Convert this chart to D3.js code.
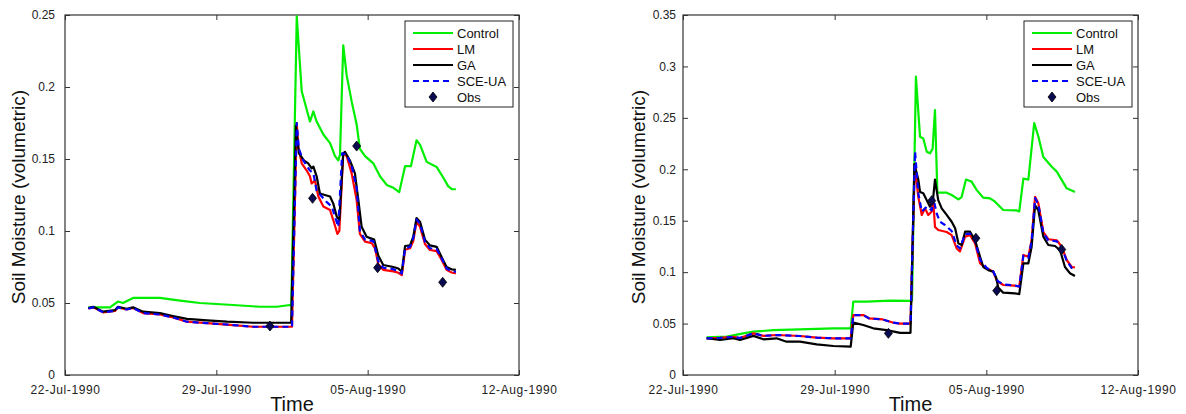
<!DOCTYPE html>
<html>
<head>
<meta charset="utf-8">
<script src="https://cdn.jsdelivr.net/npm/d3@7"></script>
<style>
  html, body { margin: 0; padding: 0; background: #fff; }
  svg { display: block; font-family: "Liberation Sans", Arial, Helvetica, sans-serif; }
</style>
</head>
<body>
<svg id="chart" width="1186" height="414"></svg>
<script>
// ---------- DATA (day offset from 22-Jul-1990 00:00, volumetric soil moisture) ----------
const seriesNames = ["Control", "LM", "GA", "SCE-UA", "Obs"];
const xTickLabels = ["22-Jul-1990", "29-Jul-1990", "05-Aug-1990", "12-Aug-1990"];
const xTickDays = [0, 7, 14, 21];
const yTicksLeft = [0, 0.05, 0.1, 0.15, 0.2, 0.25];
const yTicksRight = [0, 0.05, 0.1, 0.15, 0.2, 0.25, 0.3, 0.35];

// ----- left panel -----
const leftControl = [[1.08,0.047],[1.76,0.047],[2.08,0.047],[2.45,0.051],[2.68,0.050],[3.15,0.0535],[4.39,0.0535],
  [5.32,0.0516],[6.24,0.050],[7.77,0.0486],[9.02,0.0474],[9.8,0.0474],[10.41,0.0486],[10.47,0.048],[10.72,0.249],
  [10.95,0.197],[11.33,0.176],[11.49,0.183],[11.64,0.176],[11.95,0.167],[12.26,0.161],[12.49,0.152],[12.64,0.149],
  [12.72,0.153],[12.87,0.229],[13.03,0.208],[13.26,0.19],[13.49,0.174],[13.64,0.157],[13.88,0.152],[14.26,0.147],
  [14.57,0.138],[14.88,0.132],[15.19,0.130],[15.46,0.127],[15.73,0.145],[16.0,0.145],[16.26,0.163],[16.42,0.160],
  [16.73,0.148],[17.19,0.1445],[17.5,0.137],[17.73,0.131],[17.9,0.129],[18.08,0.129]];
const leftLM = [[1.08,0.0463],[1.31,0.047],[1.76,0.0435],[2.31,0.0445],[2.45,0.047],[2.85,0.0455],[3.15,0.0465],
  [3.61,0.043],[4.39,0.042],[4.99,0.040],[5.64,0.037],[6.57,0.036],[7.77,0.0347],[8.7,0.0335],[10.5,0.0335],
  [10.72,0.175],[10.79,0.1585],[10.95,0.147],[11.18,0.142],[11.33,0.138],[11.41,0.133],[11.56,0.135],[11.72,0.124],
  [11.95,0.117],[12.26,0.1146],[12.41,0.1076],[12.6,0.098],[12.69,0.100],[12.87,0.154],[13.03,0.152],[13.26,0.140],
  [13.49,0.1215],[13.64,0.098],[13.88,0.0926],[14.19,0.0915],[14.34,0.088],[14.49,0.077],[14.72,0.073],[15.19,0.072],
  [15.42,0.071],[15.58,0.0694],[15.73,0.087],[15.96,0.088],[16.11,0.093],[16.26,0.1065],[16.42,0.103],[16.65,0.091],
  [16.88,0.0868],[17.19,0.086],[17.42,0.080],[17.65,0.073],[17.88,0.0712],[18.08,0.0706]];
const leftGA = [[1.08,0.0465],[1.31,0.0474],[1.76,0.044],[2.31,0.045],[2.45,0.0474],[2.85,0.046],[3.15,0.047],
  [3.61,0.044],[4.39,0.043],[4.99,0.041],[5.64,0.039],[6.57,0.038],[7.49,0.037],[8.7,0.0363],[10.46,0.0363],
  [10.68,0.173],[10.82,0.154],[11.05,0.149],[11.25,0.147],[11.41,0.1435],[11.49,0.1447],[11.64,0.138],[11.79,0.126],
  [12.02,0.125],[12.26,0.124],[12.41,0.119],[12.57,0.11],[12.69,0.1076],[12.87,0.154],[12.95,0.155],[13.18,0.149],
  [13.41,0.14],[13.57,0.1215],[13.72,0.103],[13.95,0.096],[14.3,0.094],[14.49,0.083],[14.72,0.0764],[15.19,0.075],
  [15.42,0.074],[15.58,0.0717],[15.73,0.0896],[15.96,0.090],[16.11,0.096],[16.26,0.109],[16.42,0.1065],[16.65,0.094],
  [16.88,0.090],[17.19,0.089],[17.42,0.082],[17.65,0.075],[17.88,0.0734],[18.08,0.073]];
const leftSCE = [[1.08,0.0463],[1.31,0.047],[1.76,0.0435],[2.31,0.0445],[2.45,0.047],[2.85,0.0455],[3.15,0.0465],
  [3.61,0.043],[4.39,0.042],[4.99,0.040],[5.64,0.037],[6.57,0.036],[7.77,0.0347],[8.7,0.0335],[10.5,0.0335],
  [10.72,0.175],[10.82,0.157],[11.02,0.149],[11.33,0.142],[11.49,0.140],[11.64,0.128],[12.11,0.12],[12.34,0.117],
  [12.49,0.11],[12.64,0.103],[12.82,0.154],[13.03,0.153],[13.26,0.145],[13.49,0.13],[13.64,0.100],[13.88,0.094],
  [14.26,0.093],[14.49,0.079],[14.72,0.0745],[15.19,0.0735],[15.58,0.0705],[15.73,0.088],[15.96,0.089],[16.11,0.095],
  [16.26,0.108],[16.42,0.105],[16.65,0.0925],[16.88,0.088],[17.19,0.0875],[17.42,0.081],[17.65,0.074],[17.88,0.0722],
  [18.08,0.0715]];
const leftObs = [[9.48,0.034],[11.45,0.1227],[13.49,0.159],[14.46,0.0745],[17.47,0.0644]];

// ----- right panel -----
const rightControl = [[1.09,0.0366],[2.02,0.0373],[2.78,0.0405],[3.25,0.0421],[4.17,0.0437],[5.4,0.0444],[6.94,0.0454],
  [7.74,0.0454],[7.86,0.0713],[8.48,0.0713],[9.55,0.0723],[10.48,0.072],[10.57,0.072],[10.75,0.29],[10.94,0.2317],
  [11.09,0.23],[11.25,0.217],[11.4,0.2155],[11.52,0.22],[11.63,0.2576],[11.74,0.1773],[12.17,0.1773],[12.4,0.175],
  [12.71,0.1708],[12.86,0.173],[13.06,0.19],[13.32,0.188],[13.55,0.18],[13.86,0.1724],[14.17,0.1718],[14.4,0.1685],
  [14.78,0.1604],[15.4,0.160],[15.52,0.159],[15.71,0.191],[15.94,0.19],[16.21,0.245],[16.4,0.232],[16.63,0.212],
  [17.02,0.2025],[17.25,0.1977],[17.71,0.1815],[18.09,0.178]];
const rightLM = [[1.09,0.0357],[1.71,0.036],[2.32,0.037],[2.63,0.036],[3.25,0.0405],[3.71,0.038],[4.32,0.0389],
  [5.4,0.0379],[6.17,0.0363],[6.94,0.0357],[7.74,0.0357],[7.86,0.0583],[8.32,0.0583],[8.6,0.055],[9.22,0.054],
  [9.68,0.051],[10.02,0.050],[10.5,0.050],[10.7,0.205],[10.86,0.173],[11.02,0.1556],[11.17,0.162],[11.32,0.1556],
  [11.48,0.159],[11.55,0.17],[11.63,0.144],[11.78,0.141],[12.17,0.139],[12.4,0.136],[12.63,0.123],[12.78,0.12],
  [13.02,0.1345],[13.25,0.136],[13.48,0.128],[13.71,0.1086],[14.02,0.1037],[14.32,0.1004],[14.48,0.092],
  [14.55,0.0907],[14.78,0.0875],[15.32,0.0868],[15.52,0.0858],[15.71,0.1167],[15.94,0.115],[16.09,0.131],
  [16.25,0.1733],[16.4,0.167],[16.63,0.139],[16.86,0.132],[17.25,0.131],[17.48,0.1247],[17.71,0.1118],[17.94,0.105],
  [18.09,0.1047]];
const rightGA = [[1.09,0.0357],[1.71,0.034],[2.32,0.0357],[2.63,0.034],[3.25,0.038],[3.71,0.0347],[4.32,0.0357],
  [4.78,0.0324],[5.4,0.0324],[6.17,0.0298],[6.94,0.0282],[7.74,0.0275],[7.86,0.0509],[8.32,0.0486],[8.78,0.0454],
  [9.4,0.0437],[10.02,0.041],[10.5,0.041],[10.68,0.205],[10.86,0.19],[10.94,0.178],[11.09,0.1766],[11.25,0.170],
  [11.4,0.1636],[11.55,0.173],[11.63,0.19],[11.78,0.17],[11.94,0.162],[12.17,0.1556],[12.4,0.149],[12.56,0.1426],
  [12.71,0.128],[12.86,0.1264],[13.02,0.1393],[13.25,0.1393],[13.48,0.131],[13.71,0.115],[13.86,0.105],[14.09,0.102],
  [14.32,0.1004],[14.45,0.095],[14.55,0.085],[14.78,0.080],[15.32,0.0794],[15.52,0.0787],[15.71,0.1086],[15.94,0.1086],
  [16.09,0.1247],[16.25,0.165],[16.4,0.16],[16.63,0.1345],[16.86,0.1264],[17.17,0.1254],[17.4,0.1215],[17.63,0.105],
  [17.86,0.0989],[18.09,0.0963]];
const rightSCE = [[1.09,0.0357],[1.71,0.036],[2.32,0.037],[2.63,0.036],[3.25,0.0405],[3.71,0.038],[4.32,0.0389],
  [5.4,0.0379],[6.17,0.0363],[6.94,0.0357],[7.74,0.0357],[7.86,0.0583],[8.32,0.0583],[8.6,0.055],[9.22,0.054],
  [9.68,0.051],[10.02,0.050],[10.5,0.050],[10.71,0.217],[10.86,0.1766],[11.02,0.159],[11.25,0.1636],[11.48,0.16],
  [11.55,0.172],[11.71,0.157],[11.86,0.149],[12.09,0.1458],[12.4,0.140],[12.63,0.126],[12.78,0.123],[13.02,0.137],
  [13.25,0.1375],[13.48,0.130],[13.71,0.112],[14.02,0.104],[14.32,0.1008],[14.48,0.093],[14.55,0.091],[14.78,0.088],
  [15.32,0.087],[15.52,0.086],[15.71,0.116],[15.94,0.114],[16.09,0.13],[16.25,0.172],[16.4,0.166],[16.63,0.138],
  [16.86,0.131],[17.25,0.130],[17.48,0.124],[17.71,0.111],[17.94,0.104],[18.09,0.1035]];
const rightObs = [[9.48,0.0405],[11.48,0.1695],[13.52,0.133],[14.48,0.082],[17.48,0.122]];

// ---------- DRAWING ----------
const baseDate = new Date(1990, 6, 22);
const toDate = d => new Date(baseDate.getTime() + d * 864e5);
const fmt = d3.timeFormat("%d-%b-%Y");
const svg = d3.select("#chart");

const styles = {
  "Control": {color: "#00ee00", dash: null},
  "LM": {color: "#ff0000", dash: null},
  "GA": {color: "#000000", dash: null},
  "SCE-UA": {color: "#0000ff", dash: "6,4"}
};

function drawPanel(p) {
  const g = svg.append("g");
  const x = d3.scaleTime().domain([toDate(0), toDate(21)]).range([p.x0, p.x1]);
  const y = d3.scaleLinear().domain([0, p.ymax]).range([p.y1, p.y0]);
  const axisColor = "#333";
  const tickLen = 5;

  // frame
  g.append("rect").attr("x", p.x0).attr("y", p.y0).attr("width", p.x1 - p.x0).attr("height", p.y1 - p.y0)
    .attr("fill", "none").attr("stroke", axisColor).attr("stroke-width", 1.2);

  const xTickDates = xTickDays.map(toDate);
  // bottom axis labels + inside ticks (bottom and top)
  const xb = g.append("g").attr("transform", `translate(0,${p.y1})`)
    .call(d3.axisBottom(x).tickValues(xTickDates).tickFormat((d, i) => xTickLabels[i]).tickSizeInner(-tickLen).tickSizeOuter(0).tickPadding(10));
  const xt = g.append("g").attr("transform", `translate(0,${p.y0})`)
    .call(d3.axisTop(x).tickValues(xTickDates).tickFormat("").tickSizeInner(-tickLen).tickSizeOuter(0));
  const yl = g.append("g").attr("transform", `translate(${p.x0},0)`)
    .call(d3.axisLeft(y).tickValues(p.yTicks).tickFormat(d3.format("~g")).tickSizeInner(-tickLen).tickSizeOuter(0).tickPadding(p.yPad));
  const yr = g.append("g").attr("transform", `translate(${p.x1},0)`)
    .call(d3.axisRight(y).tickValues(p.yTicks).tickFormat("").tickSizeInner(-tickLen).tickSizeOuter(0));
  [xb, xt, yl, yr].forEach(a => {
    a.select(".domain").remove();
    a.selectAll(".tick line").attr("stroke", axisColor);
    a.selectAll("text").attr("fill", "#222").style("font-size", "12px")
      .style("font-family", "'Liberation Sans', Arial, sans-serif");
  });
  xb.selectAll("text").attr("dy", "0.71em").style("letter-spacing", "0.6px");

  // lines
  const line = d3.line().x(d => x(toDate(d[0]))).y(d => y(d[1]));
  const order = [["Control", p.control], ["LM", p.lm], ["GA", p.ga], ["SCE-UA", p.sce]];
  order.forEach(([name, data]) => {
    g.append("path").datum(data).attr("d", line).attr("fill", "none")
      .attr("stroke", styles[name].color).attr("stroke-width", 2.2)
      .attr("stroke-linejoin", "round")
      .attr("stroke-dasharray", styles[name].dash);
  });

  // obs diamonds
  const diamond = "M0,-5L4,0L0,5L-4,0Z";
  g.selectAll(".obs").data(p.obs).join("path").attr("class", "obs")
    .attr("d", diamond)
    .attr("transform", d => `translate(${x(toDate(d[0]))},${y(d[1])})`)
    .attr("fill", "#0a0a50").attr("stroke", "#000").attr("stroke-width", 0.8);

  // axis titles
  g.append("text").attr("x", (p.x0 + p.x1) / 2).attr("y", 411).attr("text-anchor", "middle")
    .style("font-size", "20px").attr("fill", "#111").text("Time");
  g.append("text").attr("transform", `translate(${p.ylabX},${(p.y0 + p.y1) / 2 + 2}) rotate(-90)`)
    .attr("text-anchor", "middle").style("font-size", "19px").attr("fill", "#111")
    .text("Soil Moisture (volumetric)");

  // legend
  const lg = g.append("g");
  lg.append("rect").attr("x", p.legX).attr("y", 21).attr("width", 108).attr("height", 86)
    .attr("fill", "#fff").attr("stroke", "#222").attr("stroke-width", 1);
  seriesNames.forEach((name, i) => {
    const cy = 33 + i * 16;
    if (name === "Obs") {
      lg.append("path").attr("d", diamond)
        .attr("transform", `translate(${p.legX + 28},${cy})`)
        .attr("fill", "#0a0a50").attr("stroke", "#000").attr("stroke-width", 0.8);
    } else {
      lg.append("line").attr("x1", p.legX + 8).attr("x2", p.legX + 48).attr("y1", cy).attr("y2", cy)
        .attr("stroke", styles[name].color).attr("stroke-width", 2.2)
        .attr("stroke-dasharray", styles[name].dash);
    }
    lg.append("text").attr("x", p.legX + 52).attr("y", cy).attr("dy", "0.35em")
      .style("font-size", "13px").attr("fill", "#111").text(name);
  });
}

drawPanel({x0: 65, x1: 519, y0: 15, y1: 375, ymax: 0.25, yTicks: yTicksLeft, yPad: 10, ylabX: 25, legX: 405,
  control: leftControl, lm: leftLM, ga: leftGA, sce: leftSCE, obs: leftObs});
drawPanel({x0: 683, x1: 1138, y0: 15, y1: 375, ymax: 0.35, yTicks: yTicksRight, yPad: 7, ylabX: 645, legX: 1024,
  control: rightControl, lm: rightLM, ga: rightGA, sce: rightSCE, obs: rightObs});
</script>
</body>
</html>
